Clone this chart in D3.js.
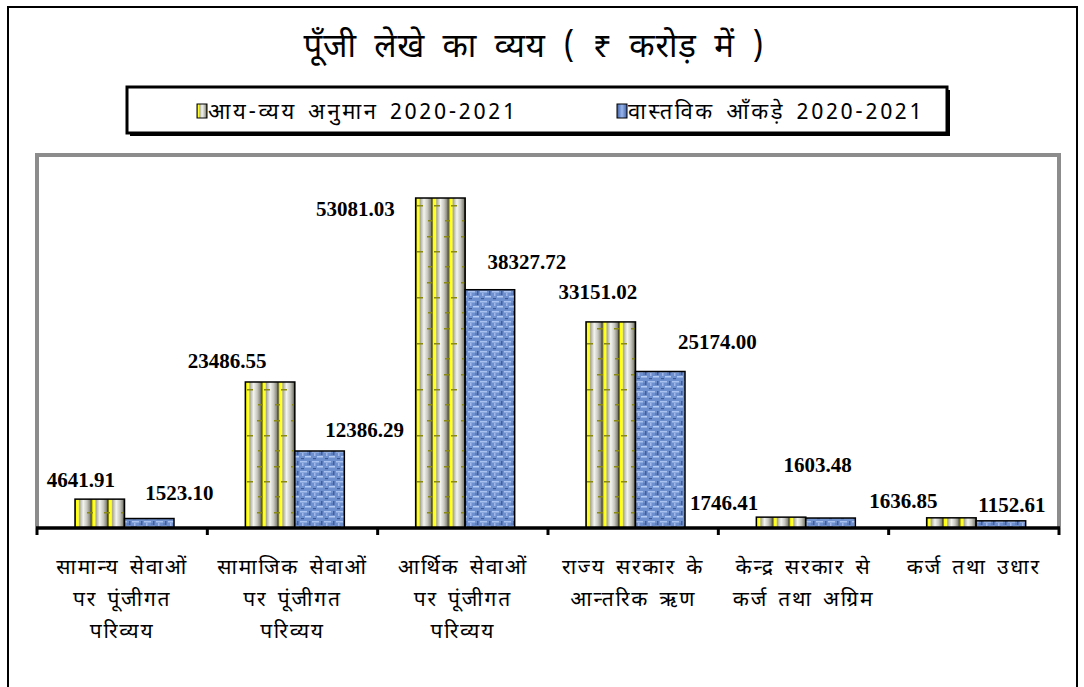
<!DOCTYPE html>
<html><head><meta charset="utf-8">
<script src="https://cdn.jsdelivr.net/npm/d3@7"></script>
<style>
html,body{margin:0;padding:0;background:#fff;}
svg{display:block;}
.dev{font-family:"Noto Sans Devanagari","Lohit Devanagari","Noto Sans","DejaVu Sans",sans-serif;}
.val{font-family:"Liberation Serif","Times New Roman",serif;font-weight:bold;font-size:21px;fill:#000;}
</style></head>
<body>
<script>
// ---- data ----
const title = "पूँजी लेखे का व्यय ( ₹ करोड़ में )";
const seriesNames = ["आय-व्यय अनुमान 2020-2021", "वास्तविक आँकड़े 2020-2021"];
const categories = [
  ["सामान्य सेवाओं", "पर पूंजीगत", "परिव्यय"],
  ["सामाजिक सेवाओं", "पर पूंजीगत", "परिव्यय"],
  ["आर्थिक सेवाओं", "पर पूंजीगत", "परिव्यय"],
  ["राज्य सरकार के", "आन्तरिक ऋण"],
  ["केन्द्र सरकार से", "कर्ज तथा अग्रिम"],
  ["कर्ज तथा उधार"]
];
const budget = [4641.91, 23486.55, 53081.03, 33151.02, 1746.41, 1636.85];
const actual = [1523.10, 12386.29, 38327.72, 25174.00, 1603.48, 1152.61];
const yMax = 60000;

// label layout offsets (dx from bar centre, dy of baseline from bar top)
const budgetLabelOffset = [[-19,-12],[-43,-14],[-85,18],[-13,-23],[-57,-7],[-48,-10]];
const actualLabelOffset = [[30,-19],[45,-14],[37,-21],[57,-23],[-13,-46],[11,-9]];

const W = 1084, H = 687;
const plot = {left: 37, right: 1059, top: 155, bottom: 528};

const svg = d3.select("body").append("svg").attr("width", W).attr("height", H);
const defs = svg.append("defs");

// bamboo gradient
const gY = defs.append("linearGradient").attr("id","bamboo").attr("x1","0").attr("x2","1").attr("y1","0").attr("y2","0");
[[0,"#3a3a00"],[0.08,"#ffff00"],[0.2,"#ffff40"],[0.28,"#a8a898"],[0.5,"#f4f4f0"],[0.72,"#c8c8c0"],[0.9,"#8a8a80"],[1,"#2a2a10"]]
  .forEach(s=>gY.append("stop").attr("offset",s[0]).attr("stop-color",s[1]));
// blue texture pattern
const pB = defs.append("pattern").attr("id","denim").attr("patternUnits","userSpaceOnUse").attr("width",12).attr("height",10);
pB.append("rect").attr("width",12).attr("height",10).attr("fill","#6f90cf");
pB.append("rect").attr("x",0).attr("y",1).attr("width",7).attr("height",1.5).attr("fill","#a9c2f0");
pB.append("rect").attr("x",5).attr("y",6).attr("width",6).attr("height",1.5).attr("fill","#b4cbf4");
pB.append("rect").attr("x",2).attr("y",3).attr("width",1.5).attr("height",3).attr("fill","#a0b8ea");
pB.append("rect").attr("x",9).attr("y",1).attr("width",1.5).attr("height",4).attr("fill","#3f5f9e");
pB.append("rect").attr("x",1).attr("y",8).attr("width",3).attr("height",1.2).attr("fill","#3c5a98");
pB.append("rect").attr("x",7).attr("y",3.5).attr("width",2).attr("height",1).attr("fill","#4d6cab");
const gB = defs.append("linearGradient").attr("id","blueSw").attr("x1","0").attr("x2","1");
[[0,"#3c5fa8"],[0.5,"#9ab6ea"],[1,"#3c5fa8"]].forEach(s=>gB.append("stop").attr("offset",s[0]).attr("stop-color",s[1]));
// bamboo nodes
const pN = defs.append("pattern").attr("id","nodes").attr("patternUnits","userSpaceOnUse").attr("width",17).attr("height",46);
pN.append("rect").attr("x",2).attr("y",6).attr("width",6).attr("height",1.5).attr("fill","#8a8a10");
pN.append("rect").attr("x",9).attr("y",21).attr("width",6).attr("height",1.5).attr("fill","#8a8a10");
pN.append("rect").attr("x",3).attr("y",36).attr("width",5).attr("height",1.5).attr("fill","#8a8a10");

// outer frame
svg.append("rect").attr("x",8).attr("y",7).attr("width",1069).attr("height",700)
  .attr("fill","none").attr("stroke","#000").attr("stroke-width",2);

// title
svg.append("text").attr("class","dev").attr("x",534).attr("y",57).attr("text-anchor","middle")
  .attr("font-size",33).attr("letter-spacing",0.8).attr("word-spacing",8).attr("fill","#000").text(title);

// legend
const lg = svg.append("g");
lg.append("rect").attr("x",130).attr("y",90).attr("width",820).attr("height",46).attr("fill","#000");
lg.append("rect").attr("x",127).attr("y",87).attr("width",820).attr("height",46).attr("fill","#fff").attr("stroke","#000").attr("stroke-width",3);
const legendX = [197, 617];
seriesNames.forEach((n,i)=>{
  lg.append("rect").attr("x",legendX[i]).attr("y",104).attr("width",10).attr("height",14)
    .attr("fill", i===0 ? "url(#bamboo)" : "url(#blueSw)").attr("stroke","#000").attr("stroke-width",1);
  lg.append("text").attr("class","dev").attr("x",legendX[i]+11).attr("y",119).attr("font-size",22)
    .attr("letter-spacing",2.6).attr("word-spacing",3).attr("fill","#000").text(n);
});

// scales
const x0 = d3.scaleBand().domain(d3.range(categories.length)).range([plot.left, plot.right]).paddingInner(0).paddingOuter(0);
const x1 = d3.scaleBand().domain([0,1]).range([38, 137]);
const y = d3.scaleLinear().domain([0, yMax]).range([plot.bottom, plot.top]);

// plot border
svg.append("path").attr("d",`M${plot.left},${plot.bottom}V${plot.top}H${plot.right}V${plot.bottom}`)
  .attr("fill","none").attr("stroke","#8c8c8c").attr("stroke-width",4);

// bars
const series = [budget, actual];
const offsets = [budgetLabelOffset, actualLabelOffset];
series.forEach((vals, s)=>{
  const g = svg.append("g");
  vals.forEach((v,i)=>{
    const bx = x0(i) + x1(s), bw = x1.bandwidth(), by = y(v), bh = y(0) - y(v);
    if (s === 0) {
      for (let k=0;k<3;k++){
        g.append("rect").attr("x", bx + k*bw/3).attr("y", by).attr("width", bw/3).attr("height", bh).attr("fill","url(#bamboo)");
      }
      g.append("rect").attr("x",bx).attr("y",by).attr("width",bw).attr("height",bh).attr("fill","url(#nodes)");
    } else {
      g.append("rect").attr("x",bx).attr("y",by).attr("width",bw).attr("height",bh).attr("fill","url(#denim)");
    }
    g.append("rect").attr("x",bx).attr("y",by).attr("width",bw).attr("height",bh)
      .attr("fill","none").attr("stroke","#000").attr("stroke-width",1.5);
    const o = offsets[s][i];
    svg.append("text").attr("class","val").attr("x", bx + bw/2 + o[0]).attr("y", by + o[1])
      .attr("text-anchor","middle").text(v.toFixed(2));
  });
});

// x axis
const ax = svg.append("g");
ax.append("line").attr("x1",plot.left-1).attr("x2",plot.right+1).attr("y1",plot.bottom).attr("y2",plot.bottom)
  .attr("stroke","#000").attr("stroke-width",3.5);
d3.range(categories.length+1).forEach(i=>{
  const tx = i < categories.length ? x0(i) : plot.right;
  ax.append("line").attr("x1",tx).attr("x2",tx).attr("y1",plot.bottom).attr("y2",plot.bottom+7)
    .attr("stroke","#000").attr("stroke-width",3);
});
categories.forEach((lines,i)=>{
  const t = svg.append("text").attr("class","dev").attr("text-anchor","middle").attr("font-size",21)
    .attr("letter-spacing",1.8).attr("word-spacing",3).attr("fill","#000");
  lines.forEach((ln,j)=>{
    t.append("tspan").attr("x", x0(i)+x0.bandwidth()/2).attr("y", 574 + j*32).text(ln);
  });
});
</script>
</body></html>
